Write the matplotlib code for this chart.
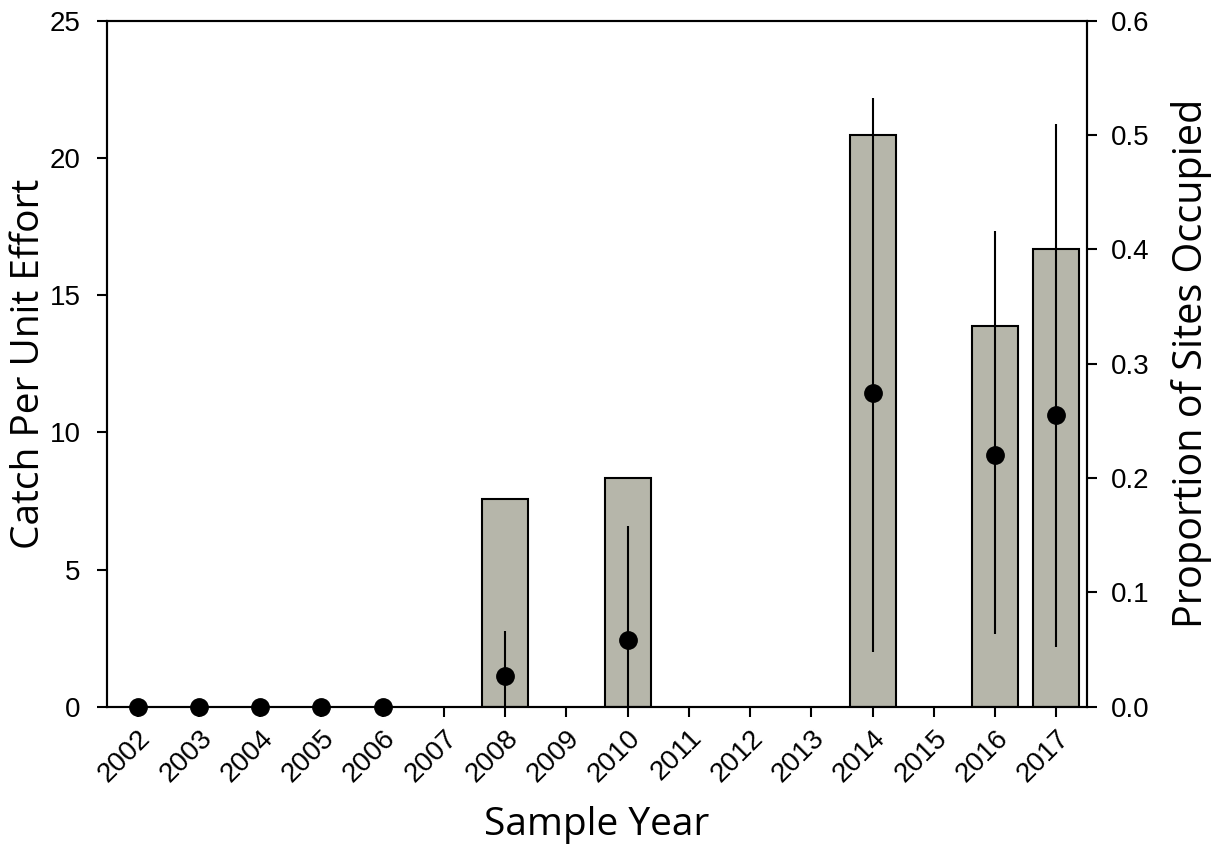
import numpy as np
import matplotlib
matplotlib.use('Agg')
import matplotlib.pyplot as plt
import matplotlib.transforms as mtrans

plt.rcParams['font.family'] = 'Liberation Sans'

years = np.arange(2002, 2018)
# catch per unit effort (left axis), with error bar ends
cpue_years = [2002, 2003, 2004, 2005, 2006, 2008, 2010, 2014, 2016, 2017]
cpue = [0, 0, 0, 0, 0, 1.12, 2.43, 11.43, 9.19, 10.62]
cpue_low = [0, 0, 0, 0, 0, 0, 0, 2.0, 2.65, 2.18]
cpue_high = [0, 0, 0, 0, 0, 2.75, 6.59, 22.18, 17.33, 21.24]
# proportion of sites occupied (right axis)
prop_years = [2008, 2010, 2014, 2016, 2017]
prop = [2 / 11, 0.2, 0.5, 1 / 3, 0.4]

fig = plt.figure(figsize=(12.24, 8.52), dpi=100)
ax = fig.add_axes([0.0874, 0.1705, 0.8006, 0.8052])
ax2 = ax.twinx()

ax2.bar(prop_years, prop, width=0.75, color='#b6b6aa', edgecolor='black', linewidth=1.5)
ax2.set_ylim(0, 0.6)
ax2.set_yticks(np.arange(0, 0.61, 0.1))
ax2.set_yticklabels(['%.1f' % v for v in np.arange(0, 0.61, 0.1)])

cpue = np.array(cpue)
yerr = [cpue - np.array(cpue_low), np.array(cpue_high) - cpue]
ax.errorbar(cpue_years, cpue, yerr=yerr, fmt='o', color='black', markersize=12.5,
            elinewidth=1.5, capsize=0, clip_on=False, zorder=5)
ax.set_zorder(ax2.get_zorder() + 1)
ax.patch.set_visible(False)

ax.set_xlim(2001.5, 2017.5)
ax.set_ylim(0, 25)
ax.set_xticks(years)
ax.set_xticklabels([str(y) for y in years], rotation=45, ha='right', rotation_mode='anchor')
off = mtrans.ScaledTranslation(8 / 100, 0, fig.dpi_scale_trans)
for lab in ax.get_xticklabels():
    lab.set_transform(lab.get_transform() + off)

for a in (ax, ax2):
    for s in a.spines.values():
        s.set_linewidth(1.5)
    a.tick_params(direction='out', length=7, width=1.5, labelsize=20, pad=6)
ax.tick_params(axis='y', pad=12)
ax2.tick_params(axis='y', pad=10)

ax.set_xlabel('Sample Year', fontsize=28, family='Open Sans', labelpad=14)
ax.set_ylabel('Catch Per Unit Effort', fontsize=28, family='Open Sans', labelpad=1)
ax2.set_ylabel('Proportion of Sites Occupied', fontsize=28.5, family='Open Sans', labelpad=16)

fig.savefig('out.png', dpi=100)
